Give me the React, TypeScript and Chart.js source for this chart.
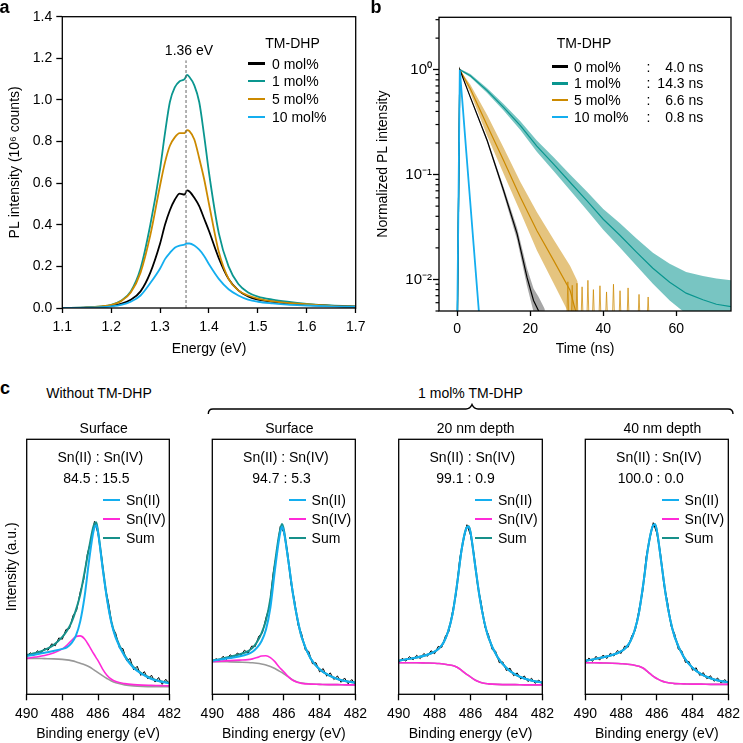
import React, { useEffect, useRef } from 'react';
import { Chart, registerables } from 'chart.js';

Chart.register(...registerables);

const FONT = "'Liberation Sans', Arial, Helvetica, sans-serif";

// ---------------- colours ----------------
const C_BLACK = '#000000';
const C_TEAL = '#0a968f';
const C_ORANGE = '#cc8a00';
const C_BLUE = '#14aeef';
const C_MAGENTA = '#ff2ad8';
const C_GRAY = '#999999';
const C_SUM = '#17908a';

// ---------------- panel a : PL spectra ----------------
const energyA = [1.10, 1.15, 1.18, 1.20, 1.22, 1.24, 1.26, 1.28, 1.30, 1.31, 1.32, 1.33, 1.34, 1.35, 1.355, 1.36, 1.37, 1.38, 1.39, 1.40, 1.42, 1.44, 1.46, 1.48, 1.50, 1.53, 1.56, 1.60, 1.65, 1.70];
const pl0mol = [0.0, 0.002, 0.005, 0.01, 0.02, 0.04, 0.08, 0.17, 0.31, 0.40, 0.47, 0.52, 0.55, 0.545, 0.565, 0.56, 0.53, 0.49, 0.43, 0.37, 0.24, 0.14, 0.085, 0.055, 0.04, 0.03, 0.022, 0.015, 0.01, 0.006];
const pl1mol = [0.0, 0.003, 0.008, 0.015, 0.035, 0.08, 0.19, 0.40, 0.67, 0.84, 0.99, 1.06, 1.09, 1.10, 1.12, 1.11, 1.07, 0.99, 0.83, 0.65, 0.36, 0.20, 0.115, 0.075, 0.055, 0.04, 0.03, 0.02, 0.012, 0.008];
const pl5mol = [0.0, 0.003, 0.008, 0.015, 0.033, 0.075, 0.17, 0.35, 0.59, 0.70, 0.78, 0.82, 0.84, 0.84, 0.855, 0.85, 0.81, 0.72, 0.62, 0.50, 0.27, 0.14, 0.085, 0.06, 0.045, 0.032, 0.025, 0.018, 0.01, 0.006];
const pl10mol = [0.0, 0.002, 0.004, 0.008, 0.015, 0.03, 0.06, 0.12, 0.19, 0.235, 0.265, 0.29, 0.30, 0.305, 0.31, 0.31, 0.30, 0.28, 0.25, 0.21, 0.14, 0.09, 0.06, 0.04, 0.03, 0.022, 0.016, 0.012, 0.008, 0.005];
const peakLineX = [1.353, 1.353];
const peakLineY = [0, 1.19];
const ticksAx = [1.1, 1.2, 1.3, 1.4, 1.5, 1.6, 1.7];
const ticksAy = [0, 0.2, 0.4, 0.6, 0.8, 1.0, 1.2, 1.4];
const legendA = ['0 mol%', '1 mol%', '5 mol%', '10 mol%'];

// ---------------- panel b : TRPL decays ----------------
const tBlue = [0, 0.7, 1.5, 2.5, 3.5, 4.5, 5.5, 6.5];
const decay10 = [0.004, 1.0, 0.45, 0.16, 0.058, 0.021, 0.0076, 0.0028];

const tBlack = [0, 0.7, 3.6, 8.2, 12.7, 16.4, 19.1, 20.9, 22.3, 24];
const decay0 = [0.003, 1.0, 0.545, 0.211, 0.0704, 0.0272, 0.0105, 0.0063, 0.005, 0.0038];
const decay0Hi = [0.003, 1.0, 0.56, 0.22, 0.076, 0.031, 0.0128, 0.0082, 0.0068, 0.0052];
const decay0Lo = [0.003, 1.0, 0.53, 0.202, 0.065, 0.0238, 0.0087, 0.0049, 0.0038, 0.003];

const tOrange = [0, 0.7, 3.6, 8.2, 12.7, 17.3, 21.8, 26.4, 30.9, 33];
const decay5 = [0.003, 1.0, 0.654, 0.293, 0.136, 0.0608, 0.0293, 0.0152, 0.0079, 0.0042];
const decay5Hi = [0.003, 1.0, 0.72, 0.37, 0.18, 0.085, 0.044, 0.024, 0.0135, 0.0095];
const decay5Lo = [0.003, 1.0, 0.6, 0.235, 0.102, 0.044, 0.019, 0.0092, 0.0045, 0.004];
// isolated noise spikes of the 5 mol% trace in its tail
const tOrangeSpikes = [30.0, 30.3, 30.6, 31.2, 31.5, 31.8, 32.5, 32.8, 33.1, 33.9, 34.2, 34.5, 35.5, 35.8, 36.1, 37.0, 37.3, 37.6, 38.8, 39.1, 39.4, 40.6, 40.9, 41.2, 42.5, 42.8, 43.1, 44.3, 44.6, 44.9, 46.5, 46.8, 47.1, 49.5, 49.8, 50.1, 52.0, 52.3, 52.6];
const decay5Spikes = [0.004, 0.0095, 0.004, 0.004, 0.0088, 0.004, 0.004, 0.0092, 0.004, 0.004, 0.0085, 0.004, 0.004, 0.0098, 0.004, 0.004, 0.008, 0.004, 0.004, 0.0087, 0.004, 0.004, 0.0076, 0.004, 0.004, 0.009, 0.004, 0.004, 0.0078, 0.004, 0.004, 0.0083, 0.004, 0.004, 0.0072, 0.004, 0.004, 0.0068, 0.004];

const tTeal = [0, 0.7, 3.6, 8.2, 12.7, 17.3, 21.8, 26.4, 30.9, 35.5, 40, 44.5, 49.1, 53.6, 58.2, 62.7, 67.3, 71, 75];
const decay1 = [0.003, 1.0, 0.877, 0.631, 0.438, 0.293, 0.187, 0.126, 0.0845, 0.0565, 0.0375, 0.0265, 0.0182, 0.0128, 0.0094, 0.0074, 0.0064, 0.0058, 0.0055];
const decay1Hi = [0.003, 1.02, 0.91, 0.665, 0.47, 0.322, 0.211, 0.146, 0.1, 0.069, 0.047, 0.0345, 0.0245, 0.018, 0.0141, 0.0118, 0.0108, 0.0102, 0.0098];
const decay1Lo = [0.003, 0.98, 0.845, 0.598, 0.408, 0.266, 0.165, 0.108, 0.071, 0.046, 0.0297, 0.0203, 0.0135, 0.0091, 0.0063, 0.0047, 0.004, 0.0038, 0.0036];

const ticksBx = [0, 20, 40, 60];
const ticksBy = [0.005, 0.006, 0.007, 0.008, 0.009, 0.01, 0.02, 0.03, 0.04, 0.05, 0.06, 0.07, 0.08, 0.09, 0.1, 0.2, 0.3, 0.4, 0.5, 0.6, 0.7, 0.8, 0.9, 1, 2, 3];
const majorBy = [0.01, 0.1, 1];
const majorByLabels = ['10\u207B\u00B2', '10\u207B\u00B9', '10\u2070'];
const lifetimes = ['4.0 ns', '14.3 ns', '6.6 ns', '0.8 ns'];

// ---------------- panel c : XPS Sn 3d ----------------
const eFit = [490, 489.5, 489, 488.5, 488, 487.75, 487.5, 487.25, 487, 486.75, 486.5, 486.25, 486.1, 486, 485.75, 485.5, 485.25, 485, 484.5, 484, 483.5, 483, 482.5, 482];
const eRaw = [490.0, 489.8, 489.6, 489.4, 489.2, 489.0, 488.8, 488.6, 488.4, 488.2, 488.0, 487.8, 487.6, 487.4, 487.2, 487.0, 486.8, 486.6, 486.4, 486.2, 486.0, 485.8, 485.6, 485.4, 485.2, 485.0, 484.8, 484.6, 484.4, 484.2, 484.0, 483.8, 483.6, 483.4, 483.2, 483.0, 482.8, 482.6, 482.4, 482.2, 482.0];
const ticksCx = [490, 488, 486, 484, 482];

// without TM-DHP, surface
const raw1 = [14.8, 16.3, 15.2, 17.1, 16.2, 18.0, 17.3, 19.8, 19.0, 22.1, 21.6, 25.4, 25.8, 30.9, 32.9, 40.1, 45.0, 55.0, 60.2, 67.8, 63.0, 54.2, 42.0, 35.6, 26.4, 23.8, 18.2, 17.9, 13.2, 14.0, 9.6, 11.0, 7.4, 8.9, 6.0, 7.5, 4.8, 6.6, 3.9, 5.9, 4.2];
const sn2_1 = [15.0, 15.6, 16.3, 17.0, 17.8, 18.4, 20.0, 22.8, 28.5, 38.5, 52.5, 64.0, 66.4, 63.5, 50.0, 37.5, 28.0, 22.0, 14.8, 10.3, 7.8, 6.0, 5.0, 4.3];
const sn4_1 = [14.1, 14.6, 15.2, 16.2, 17.8, 19.2, 21.0, 22.6, 22.9, 21.7, 19.0, 16.0, 14.3, 13.2, 10.0, 7.5, 5.9, 5.0, 4.2, 3.8, 3.6, 3.5, 3.4, 3.3];
const bg1 = [14.1, 14.1, 14.0, 13.9, 13.7, 13.5, 13.2, 12.8, 12.2, 11.6, 10.8, 9.7, 9.0, 8.5, 7.3, 6.2, 5.2, 4.5, 3.7, 3.3, 3.1, 3.0, 3.0, 3.0];
const sum1 = [15.4, 16.2, 17.4, 19.3, 22.5, 24.8, 28.0, 32.8, 39.0, 48.0, 57.5, 66.0, 67.5, 64.0, 50.5, 38.0, 28.5, 22.5, 15.2, 10.6, 8.0, 6.2, 5.1, 4.5];

// 1 mol% TM-DHP, surface
const raw2 = [12.4, 14.0, 13.1, 14.9, 13.7, 15.5, 14.4, 16.2, 15.2, 17.3, 16.1, 18.9, 18.7, 22.8, 24.0, 30.0, 34.4, 47.3, 55.6, 65.8, 63.5, 56.3, 43.4, 36.8, 27.1, 23.7, 17.4, 16.8, 12.0, 12.4, 8.8, 10.1, 7.1, 8.4, 5.8, 7.2, 4.7, 6.4, 4.1, 5.8, 4.0];
const sn2_2 = [13.2, 13.7, 14.2, 14.8, 15.8, 16.7, 18.3, 20.8, 25.3, 34.0, 48.5, 61.5, 65.8, 63.8, 52.5, 40.0, 30.0, 22.5, 14.0, 9.8, 7.5, 6.0, 5.1, 4.6];
const sn4_2 = [12.8, 13.0, 13.2, 13.4, 13.6, 13.9, 14.4, 15.0, 15.1, 14.4, 12.8, 10.6, 9.5, 8.8, 6.9, 5.5, 4.7, 4.3, 4.0, 3.9, 3.8, 3.8, 3.7, 3.7];
const bg2 = [12.8, 12.8, 12.7, 12.6, 12.5, 12.4, 12.2, 11.9, 11.5, 10.9, 10.1, 9.1, 8.5, 8.0, 6.8, 5.6, 4.8, 4.4, 4.0, 3.9, 3.8, 3.8, 3.7, 3.7];
const sum2 = [13.2, 13.9, 14.7, 15.6, 16.9, 18.2, 20.5, 23.9, 28.9, 37.5, 51.2, 63.0, 66.8, 64.6, 52.6, 39.9, 29.9, 22.4, 14.0, 9.8, 7.5, 6.0, 5.1, 4.6];

// 1 mol% TM-DHP, 20 nm depth
const raw3 = [12.5, 14.1, 13.0, 14.8, 13.5, 15.3, 14.0, 16.0, 14.9, 17.1, 15.9, 18.8, 18.4, 22.8, 24.7, 32.6, 39.4, 53.3, 60.1, 66.5, 62.4, 54.7, 42.4, 35.8, 26.4, 23.5, 17.6, 16.9, 12.4, 12.7, 9.3, 10.3, 7.3, 8.4, 6.0, 7.2, 5.0, 6.3, 4.3, 5.6, 4.1];
const sn2_3 = [13.2, 13.8, 14.4, 15.3, 16.7, 18.0, 20.3, 24.5, 31.5, 43.0, 56.5, 64.8, 65.8, 63.5, 51.0, 38.5, 29.0, 22.3, 14.6, 10.3, 7.7, 6.2, 5.2, 4.6];
const sn4_3 = [12.4, 12.4, 12.4, 12.3, 12.2, 12.1, 11.9, 11.6, 11.3, 10.6, 9.4, 8.0, 7.3, 6.8, 5.6, 4.8, 4.3, 4.1, 3.9, 3.8, 3.8, 3.7, 3.7, 3.7];
const bg3 = [12.4, 12.4, 12.4, 12.3, 12.2, 12.1, 11.9, 11.6, 11.3, 10.6, 9.4, 8.0, 7.3, 6.8, 5.6, 4.8, 4.3, 4.1, 3.9, 3.8, 3.8, 3.7, 3.7, 3.7];
const sum3 = [13.2, 13.8, 14.4, 15.3, 16.7, 18.0, 20.3, 24.6, 31.6, 43.1, 56.6, 64.9, 65.9, 63.6, 51.0, 38.5, 29.0, 22.3, 14.6, 10.3, 7.7, 6.2, 5.2, 4.6];

// 1 mol% TM-DHP, 40 nm depth
const raw4 = [12.3, 14.2, 12.9, 14.9, 13.4, 15.4, 14.0, 16.1, 15.0, 17.2, 16.0, 18.9, 18.5, 23.0, 25.1, 33.1, 39.8, 53.8, 60.8, 67.3, 63.1, 55.6, 42.9, 36.3, 26.7, 23.7, 17.7, 17.0, 12.5, 12.9, 9.4, 10.4, 7.4, 8.5, 6.1, 7.3, 5.1, 6.4, 4.4, 5.8, 4.2];
const sn2_4 = [13.2, 13.8, 14.5, 15.4, 16.8, 18.1, 20.5, 24.8, 32.0, 43.5, 57.0, 65.5, 66.7, 64.3, 51.8, 39.0, 29.3, 22.5, 14.7, 10.4, 7.8, 6.3, 5.3, 4.8];
const sn4_4 = [12.4, 12.4, 12.3, 12.2, 12.0, 11.9, 11.7, 11.4, 11.0, 10.2, 8.8, 7.3, 6.6, 6.2, 5.3, 4.7, 4.4, 4.2, 4.1, 4.0, 4.0, 3.9, 3.9, 3.9];
const bg4 = [12.4, 12.4, 12.3, 12.2, 12.0, 11.9, 11.7, 11.4, 11.0, 10.2, 8.8, 7.3, 6.6, 6.2, 5.3, 4.7, 4.4, 4.2, 4.1, 4.0, 4.0, 3.9, 3.9, 3.9];
const sum4 = [13.2, 13.8, 14.5, 15.4, 16.8, 18.1, 20.5, 24.8, 32.0, 43.5, 57.0, 65.5, 66.7, 64.3, 51.8, 39.0, 29.3, 22.5, 14.7, 10.4, 7.8, 6.3, 5.3, 4.8];

const xpsTitles = ['Surface', 'Surface', '20 nm depth', '40 nm depth'];
const xpsRatios = ['84.5 : 15.5', '94.7 : 5.3', '99.1 : 0.9', '100.0 : 0.0'];
const xpsLegend = ['Sn(II)', 'Sn(IV)', 'Sum'];

// ---------------- layout (positions, not data) ----------------
const XPS_L = [26.7, 212.3, 398.7, 585.3];
const XPS_CANVAS_L = [0, 186, 373, 559];
const XPS_RATIO_DX = [36.6, 40, 37.6, 32.4];

type Pt = { x: number; y: number };
const xy = (xs: number[], ys: number[]): Pt[] => xs.map((x, i) => ({ x, y: ys[i] }));

const framePlugin = {
  id: 'frame',
  afterDatasetsDraw(chart: any) {
    const { ctx, chartArea } = chart;
    const { left, right, top, bottom } = chartArea;
    ctx.save();
    ctx.strokeStyle = '#000';
    ctx.lineWidth = 1.3;
    ctx.strokeRect(left, top, right - left, bottom - top);
    ctx.restore();
  },
};

const minorTickPlugin = {
  id: 'minorTicks',
  afterDraw(chart: any) {
    const s = chart.scales.y;
    const { ctx } = chart;
    ctx.save();
    ctx.strokeStyle = '#000';
    ctx.lineWidth = 1.2;
    ticksBy.forEach((v) => {
      if (majorBy.indexOf(v) >= 0) return;
      const y = s.getPixelForValue(v);
      ctx.beginPath();
      ctx.moveTo(s.right, y);
      ctx.lineTo(s.right - 3.5, y);
      ctx.stroke();
    });
    ctx.restore();
  },
};

const tickFont = { family: FONT, size: 14 };

function line(data: Pt[], color: string, width: number, extra: any = {}) {
  return {
    data,
    borderColor: color,
    backgroundColor: color,
    borderWidth: width,
    pointRadius: 0,
    tension: 0,
    fill: false,
    ...extra,
  };
}

function axisGrid(len: number) {
  return { display: true, drawOnChartArea: false, drawTicks: true, tickLength: len, tickColor: '#000', tickWidth: 1.3 };
}

function configA() {
  const smooth = { cubicInterpolationMode: 'monotone' };
  return {
    type: 'line',
    data: {
      datasets: [
        line(xy(peakLineX, peakLineY), '#666', 1, { borderDash: [3, 2] }),
        line(xy(energyA, pl10mol), C_BLUE, 1.8, smooth),
        line(xy(energyA, pl5mol), C_ORANGE, 1.8, smooth),
        line(xy(energyA, pl0mol), C_BLACK, 1.8, smooth),
        line(xy(energyA, pl1mol), C_TEAL, 1.8, smooth),
      ],
    },
    options: {
      animation: false,
      responsive: false,
      layout: { padding: { left: 0, right: 16.3, top: 16.7, bottom: 0 } },
      plugins: { legend: { display: false }, tooltip: { enabled: false } },
      scales: {
        x: {
          type: 'linear', min: 1.1, max: 1.7,
          afterBuildTicks: (a: any) => { a.ticks = ticksAx.map((v) => ({ value: v })); },
          afterFit: (s: any) => { s.height = 52; },
          ticks: { autoSkip: false, maxRotation: 0, padding: 6, color: '#000', font: tickFont, callback: (v: any) => Number(v).toFixed(1) },
          grid: axisGrid(5),
          border: { display: false },
          title: { display: true, text: 'Energy (eV)', color: '#000', font: tickFont, padding: { top: 0, bottom: 2.6 } },
        },
        y: {
          type: 'linear', min: 0, max: 1.4,
          afterBuildTicks: (a: any) => { a.ticks = ticksAy.map((v) => ({ value: v })); },
          afterFit: (s: any) => { s.width = 62.3; },
          ticks: { autoSkip: false, padding: 4, color: '#000', font: tickFont, callback: (v: any) => Number(v).toFixed(1) },
          grid: axisGrid(6),
          border: { display: false },
          title: { display: true, text: 'PL intensity (10\u2076 counts)', color: '#000', font: tickFont, padding: { top: 6.6, bottom: 0 } },
        },
      },
    },
    plugins: [framePlugin],
  };
}

function band(xs: number[], ys: number[], color: string, fill: any) {
  return line(xy(xs, ys), 'rgba(0,0,0,0)', 0, { fill, backgroundColor: color });
}

function configB() {
  return {
    type: 'line',
    data: {
      datasets: [
        line(xy(tBlue, decay10), C_BLUE, 1.8),
        line(xy(tBlack, decay0), C_BLACK, 1.2),
        band(tBlack, decay0Hi, 'rgba(0,0,0,0.35)', '+1'),
        band(tBlack, decay0Lo, 'rgba(0,0,0,0)', false),
        line(xy(tOrange, decay5), C_ORANGE, 1.2),
        band(tOrange, decay5Hi, 'rgba(204,138,0,0.5)', '+1'),
        band(tOrange, decay5Lo, 'rgba(0,0,0,0)', false),
        line(xy(tOrangeSpikes, decay5Spikes), 'rgba(204,138,0,0.75)', 1),
        line(xy(tTeal, decay1), C_TEAL, 1.2),
        band(tTeal, decay1Hi, 'rgba(10,150,143,0.55)', '+1'),
        band(tTeal, decay1Lo, 'rgba(0,0,0,0)', false),
      ],
    },
    options: {
      animation: false,
      responsive: false,
      layout: { padding: { left: 0, right: 12, top: 17.3, bottom: 0 } },
      plugins: { legend: { display: false }, tooltip: { enabled: false } },
      scales: {
        x: {
          type: 'linear', min: -5, max: 75,
          afterBuildTicks: (a: any) => { a.ticks = ticksBx.map((v) => ({ value: v })); },
          afterFit: (s: any) => { s.height = 49; },
          ticks: { autoSkip: false, maxRotation: 0, padding: 5, color: '#000', font: tickFont },
          grid: axisGrid(5),
          border: { display: false },
          title: { display: true, text: 'Time (ns)', color: '#000', font: tickFont, padding: { top: 0, bottom: 2.6 } },
        },
        y: {
          type: 'logarithmic', min: 0.005, max: 3.16,
          afterBuildTicks: (a: any) => { a.ticks = ticksBy.map((v) => ({ value: v, major: majorBy.indexOf(v) >= 0 })); },
          afterFit: (s: any) => { s.width = 67; },
          ticks: {
            autoSkip: false, padding: 1, color: '#000', font: { family: FONT, size: 15 },
            callback: (v: any) => { const i = majorBy.indexOf(Number(v)); return i >= 0 ? majorByLabels[i] : ''; },
          },
          grid: {
            display: true, drawOnChartArea: false, drawTicks: true, tickLength: 6, tickWidth: 1.3,
            tickColor: (c: any) => (c.tick && majorBy.indexOf(c.tick.value) >= 0 ? '#000' : 'rgba(0,0,0,0)'),
          },
          border: { display: false },
          title: { display: true, text: 'Normalized PL intensity', color: '#000', font: tickFont, padding: { top: 2.6, bottom: 0 } },
        },
      },
    },
    plugins: [framePlugin, minorTickPlugin],
  };
}

const xpsData = [
  { raw: raw1, sn2: sn2_1, sn4: sn4_1, bg: bg1, sum: sum1 },
  { raw: raw2, sn2: sn2_2, sn4: sn4_2, bg: bg2, sum: sum2 },
  { raw: raw3, sn2: sn2_3, sn4: sn4_3, bg: bg3, sum: sum3 },
  { raw: raw4, sn2: sn2_4, sn4: sn4_4, bg: bg4, sum: sum4 },
];

function configC(i: number) {
  const d = xpsData[i];
  const smooth = { cubicInterpolationMode: 'monotone' };
  const yW = XPS_L[i] - XPS_CANVAS_L[i];
  return {
    type: 'line',
    data: {
      datasets: [
        line(xy(eFit, d.sn2), C_BLUE, 2, smooth),
        line(xy(eFit, d.sum), C_SUM, 2, smooth),
        line(xy(eFit, d.sn4), C_MAGENTA, 1.6, smooth),
        line(xy(eFit, d.bg), C_GRAY, 1.6, smooth),
        line(xy(eRaw, d.raw), C_BLACK, 1),
      ],
    },
    options: {
      animation: false,
      responsive: false,
      layout: { padding: { left: 0, right: 186 - yW - 146, top: 9.3, bottom: 0 } },
      plugins: { legend: { display: false }, tooltip: { enabled: false } },
      scales: {
        x: {
          type: 'linear', min: 482, max: 490, reverse: true,
          afterBuildTicks: (a: any) => { a.ticks = ticksCx.map((v) => ({ value: v })); },
          afterFit: (s: any) => { s.height = 48.7; },
          ticks: { autoSkip: false, maxRotation: 0, padding: 5, color: '#000', font: tickFont },
          grid: axisGrid(6),
          border: { display: false },
          title: { display: true, text: 'Binding energy (eV)', color: '#000', font: tickFont, padding: { top: 0, bottom: 0 } },
        },
        y: {
          type: 'linear', min: 0, max: 100,
          afterFit: (s: any) => { s.width = yW; },
          ticks: { display: false },
          grid: { display: false },
          border: { display: false },
          title: { display: i === 0, text: 'Intensity (a.u.)', color: '#000', font: tickFont, padding: { top: 4.1, bottom: 0 } },
        },
      },
    },
    plugins: [framePlugin],
  };
}

function ChartBox(props: { left: number; top: number; width: number; height: number; make: () => any }) {
  const ref = useRef<HTMLCanvasElement>(null);
  useEffect(() => {
    const chart = new Chart(ref.current as HTMLCanvasElement, props.make());
    return () => chart.destroy();
  }, []);
  return (
    <canvas
      ref={ref}
      width={props.width}
      height={props.height}
      style={{ position: 'absolute', left: props.left, top: props.top, width: props.width, height: props.height }}
    />
  );
}

function Txt(props: { x: number; y: number; children: any; anchor?: 'center' | 'left' | 'right'; size?: number; bold?: boolean }) {
  const a = props.anchor || 'center';
  const tx = a === 'center' ? '-50%' : a === 'left' ? '0' : '-100%';
  return (
    <div
      style={{
        position: 'absolute', left: props.x, top: props.y, transform: `translate(${tx}, -50%)`,
        fontFamily: FONT, fontSize: props.size || 14, fontWeight: props.bold ? 'bold' : 'normal',
        lineHeight: 1, whiteSpace: 'nowrap', color: '#000',
      }}
    >
      {props.children}
    </div>
  );
}

function Swatch(props: { x1: number; x2: number; y: number; color: string; h?: number }) {
  const h = props.h || 2.4;
  return <div style={{ position: 'absolute', left: props.x1, top: props.y - h / 2, width: props.x2 - props.x1, height: h, background: props.color }} />;
}

export default function App() {
  const colorsAB = [C_BLACK, C_TEAL, C_ORANGE, C_BLUE];
  const rowsA = [63.5, 81.3, 99, 116.7];
  const rowsB = [66.5, 83.4, 100.3, 117.2];
  const rowsC = [500, 519, 537.7];
  const colorsC = [C_BLUE, C_MAGENTA, C_SUM];
  return (
    <div style={{ position: 'absolute', left: 0, top: 0, width: 743, height: 743, overflow: 'hidden', background: '#fff' }}>
      <ChartBox left={0} top={0} width={372} height={360} make={configA} />
      <ChartBox left={372} top={0} width={371} height={360} make={configB} />
      {[0, 1, 2, 3].map((i) => (
        <ChartBox key={i} left={XPS_CANVAS_L[i]} top={430} width={186} height={313} make={() => configC(i)} />
      ))}

      {/* panel letters */}
      <Txt x={4.5} y={7} size={18} bold>a</Txt>
      <Txt x={376} y={7} size={18} bold>b</Txt>
      <Txt x={5} y={388} size={18} bold>c</Txt>

      {/* panel a annotations */}
      <Txt x={189} y={49.5}>1.36 eV</Txt>
      <Txt x={292.5} y={43}>TM-DHP</Txt>
      {legendA.map((t, i) => (
        <React.Fragment key={t}>
          <Swatch x1={248} x2={265} y={rowsA[i]} color={colorsAB[i]} />
          <Txt x={272} y={rowsA[i]} anchor="left">{t}</Txt>
        </React.Fragment>
      ))}

      {/* panel b annotations */}
      <Txt x={584} y={43.3}>TM-DHP</Txt>
      {legendA.map((t, i) => (
        <React.Fragment key={t}>
          <Swatch x1={551.7} x2={568.3} y={rowsB[i]} color={colorsAB[i]} />
          <Txt x={574} y={rowsB[i]} anchor="left">{t}</Txt>
          <Txt x={648.5} y={rowsB[i]}>:</Txt>
          <Txt x={703.3} y={rowsB[i]} anchor="right">{lifetimes[i]}</Txt>
        </React.Fragment>
      ))}

      {/* panel c headings and brace */}
      <Txt x={99} y={393}>Without TM-DHP</Txt>
      <Txt x={470.5} y={393}>1 mol% TM-DHP</Txt>
      <svg style={{ position: 'absolute', left: 0, top: 0 }} width={743} height={743}>
        <path d="M208.3,414 Q208.3,409 213,409 L466,409 Q470,409 472,404.5 Q474,409 478,409 L728,409 Q733,409 733,414" fill="none" stroke="#000" strokeWidth={1.4} />
      </svg>
      {[0, 1, 2, 3].map((i) => (
        <React.Fragment key={'c' + i}>
          <Txt x={XPS_L[i] + 77} y={428}>{xpsTitles[i]}</Txt>
          <Txt x={XPS_L[i] + 73.6} y={457.3}>Sn(II) : Sn(IV)</Txt>
          <Txt x={XPS_L[i] + XPS_RATIO_DX[i]} y={477.7} anchor="left">{xpsRatios[i]}</Txt>
          {xpsLegend.map((t, k) => (
            <React.Fragment key={t}>
              <Swatch x1={XPS_L[i] + 76.6} x2={XPS_L[i] + 93.3} y={rowsC[k]} color={colorsC[k]} />
              <Txt x={XPS_L[i] + 99.3} y={rowsC[k]} anchor="left">{t}</Txt>
            </React.Fragment>
          ))}
        </React.Fragment>
      ))}
    </div>
  );
}
